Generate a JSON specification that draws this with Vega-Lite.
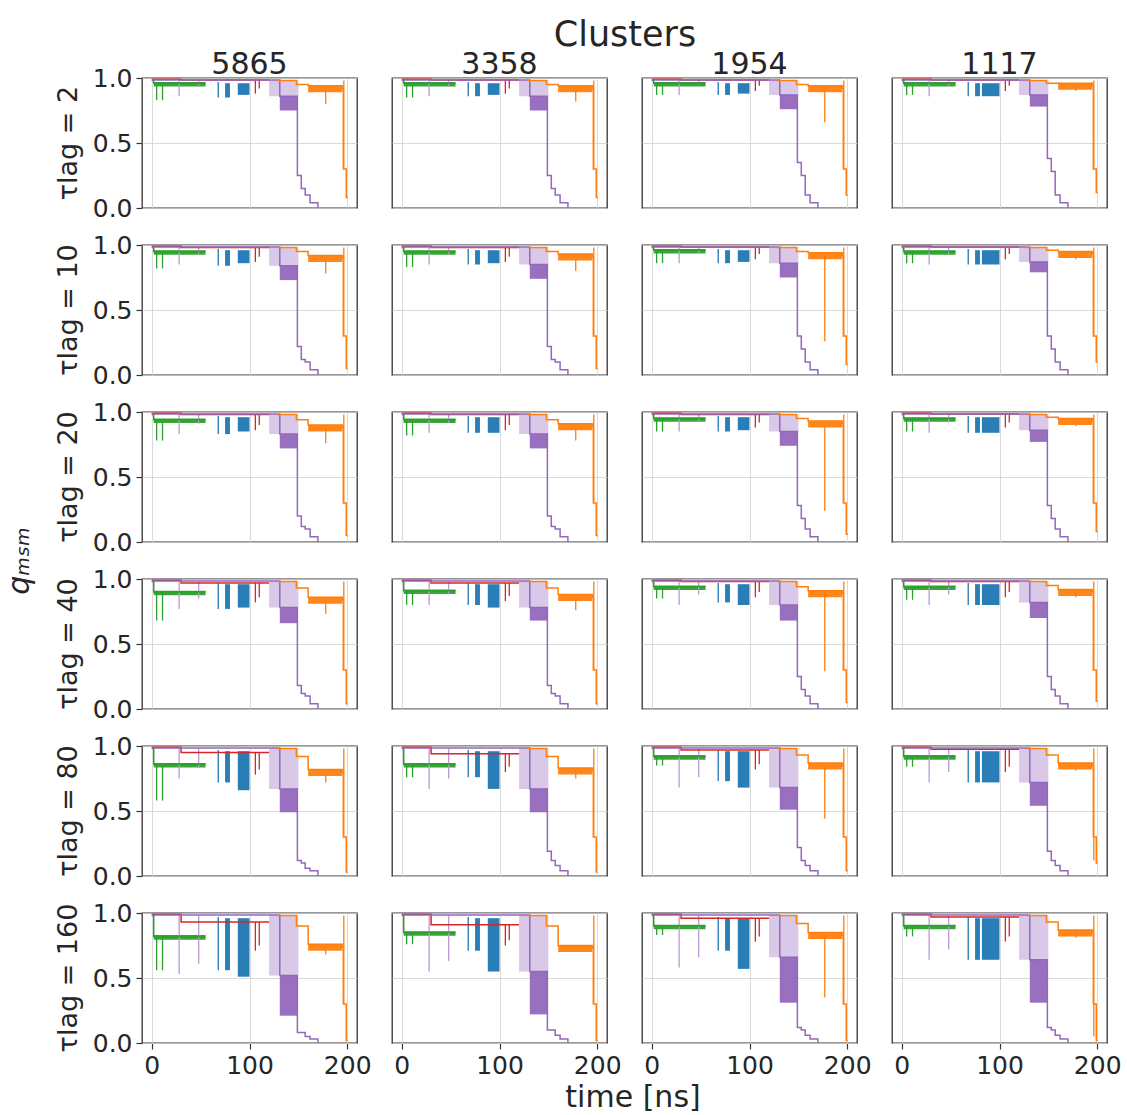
{"$schema":"https://vega.github.io/schema/vega-lite/v6.json","background":"white","padding":{"left":5,"top":18,"right":5,"bottom":2},"bounds":"flush",
"title":{"text":"time [ns]","orient":"bottom","anchor":"middle","fontSize":30,"fontWeight":"normal","color":"#262626","font":"DejaVu Sans","offset":5,"dx":70},
"data":{"values":[
{"r":2,"c":5865,"s":"g","t":0,"q":0.98},{"r":2,"c":5865,"s":"g","t":2,"q":0.96},{"r":2,"c":5865,"s":"g","t":55,"q":0.96},{"r":2,"c":5865,"s":"g","t":5,"q":0.96,"q2":0.83},{"r":2,"c":5865,"s":"g","t":11,"q":0.96,"q2":0.83},{"r":2,"c":5865,"s":"pl","t":28,"q":0.98,"q2":0.86},{"r":2,"c":5865,"s":"pl","t":48,"q":0.98,"q2":0.94},{"r":2,"c":5865,"s":"r","t":0,"q":0.99},{"r":2,"c":5865,"s":"r","t":30,"q":0.985},{"r":2,"c":5865,"s":"r","t":120,"q":0.985},{"r":2,"c":5865,"s":"r","t":106,"q":0.985,"q2":0.88},{"r":2,"c":5865,"s":"r","t":110,"q":0.985,"q2":0.92},{"r":2,"c":5865,"s":"b","t":75,"t2":80,"q":0.85,"q2":0.96},{"r":2,"c":5865,"s":"b","t":88,"t2":100,"q":0.87,"q2":0.96},{"r":2,"c":5865,"s":"b","t":68,"q":0.97,"q2":0.85},{"r":2,"c":5865,"s":"pl","t":120,"t2":150,"q":0.86,"q2":0.985},{"r":2,"c":5865,"s":"p","t":131,"t2":149,"q":0.75,"q2":0.86},{"r":2,"c":5865,"s":"p","t":0,"q":0.985},{"r":2,"c":5865,"s":"p","t":120,"q":0.985},{"r":2,"c":5865,"s":"p","t":131,"q":0.86},{"r":2,"c":5865,"s":"p","t":149,"q":0.25},{"r":2,"c":5865,"s":"p","t":153,"q":0.15},{"r":2,"c":5865,"s":"p","t":157,"q":0.1},{"r":2,"c":5865,"s":"p","t":162,"q":0.04},{"r":2,"c":5865,"s":"p","t":170,"q":0},{"r":2,"c":5865,"s":"o","t":128,"q":0.98},{"r":2,"c":5865,"s":"o","t":148,"q":0.95},{"r":2,"c":5865,"s":"o","t":160,"q":0.94},{"r":2,"c":5865,"s":"o","t":195,"q":0.92},{"r":2,"c":5865,"s":"o","t":196,"q":0.3},{"r":2,"c":5865,"s":"o","t":199,"q":0.08},{"r":2,"c":5865,"s":"o","t":200.5,"q":0.08},{"r":2,"c":5865,"s":"o","t":178,"q":0.92,"q2":0.8},{"r":2,"c":5865,"s":"o","t":196.5,"q":0.98,"q2":0.3},
{"r":2,"c":3358,"s":"g","t":0,"q":0.98},{"r":2,"c":3358,"s":"g","t":2,"q":0.96},{"r":2,"c":3358,"s":"g","t":55,"q":0.96},{"r":2,"c":3358,"s":"g","t":5,"q":0.96,"q2":0.85},{"r":2,"c":3358,"s":"g","t":11,"q":0.96,"q2":0.85},{"r":2,"c":3358,"s":"pl","t":28,"q":0.98,"q2":0.86},{"r":2,"c":3358,"s":"pl","t":48,"q":0.98,"q2":0.94},{"r":2,"c":3358,"s":"r","t":0,"q":0.99},{"r":2,"c":3358,"s":"r","t":30,"q":0.985},{"r":2,"c":3358,"s":"r","t":120,"q":0.985},{"r":2,"c":3358,"s":"r","t":106,"q":0.985,"q2":0.88},{"r":2,"c":3358,"s":"r","t":110,"q":0.985,"q2":0.92},{"r":2,"c":3358,"s":"b","t":75,"t2":80,"q":0.86,"q2":0.96},{"r":2,"c":3358,"s":"b","t":88,"t2":100,"q":0.87,"q2":0.96},{"r":2,"c":3358,"s":"b","t":68,"q":0.97,"q2":0.86},{"r":2,"c":3358,"s":"pl","t":120,"t2":150,"q":0.86,"q2":0.985},{"r":2,"c":3358,"s":"p","t":131,"t2":149,"q":0.75,"q2":0.86},{"r":2,"c":3358,"s":"p","t":0,"q":0.985},{"r":2,"c":3358,"s":"p","t":120,"q":0.985},{"r":2,"c":3358,"s":"p","t":131,"q":0.86},{"r":2,"c":3358,"s":"p","t":149,"q":0.25},{"r":2,"c":3358,"s":"p","t":153,"q":0.15},{"r":2,"c":3358,"s":"p","t":157,"q":0.1},{"r":2,"c":3358,"s":"p","t":162,"q":0.04},{"r":2,"c":3358,"s":"p","t":170,"q":0},{"r":2,"c":3358,"s":"o","t":128,"q":0.98},{"r":2,"c":3358,"s":"o","t":148,"q":0.95},{"r":2,"c":3358,"s":"o","t":160,"q":0.94},{"r":2,"c":3358,"s":"o","t":195,"q":0.92},{"r":2,"c":3358,"s":"o","t":196,"q":0.3},{"r":2,"c":3358,"s":"o","t":199,"q":0.08},{"r":2,"c":3358,"s":"o","t":200.5,"q":0.08},{"r":2,"c":3358,"s":"o","t":178,"q":0.92,"q2":0.82},{"r":2,"c":3358,"s":"o","t":196.5,"q":0.98,"q2":0.3},
{"r":2,"c":1954,"s":"g","t":0,"q":0.98},{"r":2,"c":1954,"s":"g","t":2,"q":0.96},{"r":2,"c":1954,"s":"g","t":55,"q":0.96},{"r":2,"c":1954,"s":"g","t":5,"q":0.96,"q2":0.87},{"r":2,"c":1954,"s":"g","t":11,"q":0.96,"q2":0.87},{"r":2,"c":1954,"s":"pl","t":28,"q":0.98,"q2":0.87},{"r":2,"c":1954,"s":"pl","t":48,"q":0.98,"q2":0.95},{"r":2,"c":1954,"s":"r","t":0,"q":0.99},{"r":2,"c":1954,"s":"r","t":30,"q":0.985},{"r":2,"c":1954,"s":"r","t":120,"q":0.985},{"r":2,"c":1954,"s":"r","t":106,"q":0.985,"q2":0.9},{"r":2,"c":1954,"s":"r","t":110,"q":0.985,"q2":0.94},{"r":2,"c":1954,"s":"b","t":75,"t2":80,"q":0.87,"q2":0.96},{"r":2,"c":1954,"s":"b","t":88,"t2":100,"q":0.88,"q2":0.96},{"r":2,"c":1954,"s":"b","t":68,"q":0.97,"q2":0.87},{"r":2,"c":1954,"s":"pl","t":120,"t2":150,"q":0.87,"q2":0.985},{"r":2,"c":1954,"s":"p","t":131,"t2":149,"q":0.76,"q2":0.87},{"r":2,"c":1954,"s":"p","t":0,"q":0.985},{"r":2,"c":1954,"s":"p","t":120,"q":0.985},{"r":2,"c":1954,"s":"p","t":131,"q":0.87},{"r":2,"c":1954,"s":"p","t":149,"q":0.35},{"r":2,"c":1954,"s":"p","t":153,"q":0.25},{"r":2,"c":1954,"s":"p","t":157,"q":0.1},{"r":2,"c":1954,"s":"p","t":162,"q":0.04},{"r":2,"c":1954,"s":"p","t":170,"q":0},{"r":2,"c":1954,"s":"o","t":128,"q":0.98},{"r":2,"c":1954,"s":"o","t":148,"q":0.95},{"r":2,"c":1954,"s":"o","t":160,"q":0.94},{"r":2,"c":1954,"s":"o","t":195,"q":0.92},{"r":2,"c":1954,"s":"o","t":196,"q":0.3},{"r":2,"c":1954,"s":"o","t":199,"q":0.1},{"r":2,"c":1954,"s":"o","t":200.5,"q":0.1},{"r":2,"c":1954,"s":"o","t":177,"q":0.92,"q2":0.66},{"r":2,"c":1954,"s":"o","t":196.5,"q":0.98,"q2":0.3},
{"r":2,"c":1117,"s":"g","t":0,"q":0.98},{"r":2,"c":1117,"s":"g","t":2,"q":0.96},{"r":2,"c":1117,"s":"g","t":55,"q":0.96},{"r":2,"c":1117,"s":"g","t":5,"q":0.96,"q2":0.87},{"r":2,"c":1117,"s":"g","t":11,"q":0.96,"q2":0.87},{"r":2,"c":1117,"s":"pl","t":28,"q":0.98,"q2":0.86},{"r":2,"c":1117,"s":"pl","t":48,"q":0.98,"q2":0.94},{"r":2,"c":1117,"s":"r","t":0,"q":0.99},{"r":2,"c":1117,"s":"r","t":30,"q":0.985},{"r":2,"c":1117,"s":"r","t":120,"q":0.985},{"r":2,"c":1117,"s":"r","t":106,"q":0.985,"q2":0.9},{"r":2,"c":1117,"s":"r","t":110,"q":0.985,"q2":0.94},{"r":2,"c":1117,"s":"b","t":75,"t2":80,"q":0.86,"q2":0.96},{"r":2,"c":1117,"s":"b","t":82,"t2":100,"q":0.86,"q2":0.96},{"r":2,"c":1117,"s":"b","t":68,"q":0.97,"q2":0.86},{"r":2,"c":1117,"s":"pl","t":120,"t2":150,"q":0.87,"q2":0.985},{"r":2,"c":1117,"s":"p","t":131,"t2":149,"q":0.78,"q2":0.87},{"r":2,"c":1117,"s":"p","t":0,"q":0.985},{"r":2,"c":1117,"s":"p","t":120,"q":0.985},{"r":2,"c":1117,"s":"p","t":131,"q":0.87},{"r":2,"c":1117,"s":"p","t":149,"q":0.38},{"r":2,"c":1117,"s":"p","t":153,"q":0.28},{"r":2,"c":1117,"s":"p","t":157,"q":0.1},{"r":2,"c":1117,"s":"p","t":162,"q":0.04},{"r":2,"c":1117,"s":"p","t":170,"q":0},{"r":2,"c":1117,"s":"o","t":128,"q":0.98},{"r":2,"c":1117,"s":"o","t":148,"q":0.96},{"r":2,"c":1117,"s":"o","t":160,"q":0.96},{"r":2,"c":1117,"s":"o","t":195,"q":0.94},{"r":2,"c":1117,"s":"o","t":196,"q":0.3},{"r":2,"c":1117,"s":"o","t":199,"q":0.12},{"r":2,"c":1117,"s":"o","t":200.5,"q":0.12},{"r":2,"c":1117,"s":"o","t":178,"q":0.94,"q2":0.9},{"r":2,"c":1117,"s":"o","t":196.5,"q":0.98,"q2":0.3},
{"r":10,"c":5865,"s":"g","t":0,"q":0.98},{"r":10,"c":5865,"s":"g","t":2,"q":0.95},{"r":10,"c":5865,"s":"g","t":55,"q":0.95},{"r":10,"c":5865,"s":"g","t":5,"q":0.95,"q2":0.82},{"r":10,"c":5865,"s":"g","t":11,"q":0.95,"q2":0.82},{"r":10,"c":5865,"s":"pl","t":28,"q":0.98,"q2":0.85},{"r":10,"c":5865,"s":"pl","t":48,"q":0.98,"q2":0.93},{"r":10,"c":5865,"s":"r","t":0,"q":0.99},{"r":10,"c":5865,"s":"r","t":30,"q":0.98},{"r":10,"c":5865,"s":"r","t":120,"q":0.98},{"r":10,"c":5865,"s":"r","t":106,"q":0.98,"q2":0.87},{"r":10,"c":5865,"s":"r","t":110,"q":0.98,"q2":0.91},{"r":10,"c":5865,"s":"b","t":75,"t2":80,"q":0.84,"q2":0.96},{"r":10,"c":5865,"s":"b","t":88,"t2":100,"q":0.86,"q2":0.96},{"r":10,"c":5865,"s":"b","t":68,"q":0.97,"q2":0.84},{"r":10,"c":5865,"s":"pl","t":120,"t2":150,"q":0.84,"q2":0.985},{"r":10,"c":5865,"s":"p","t":131,"t2":149,"q":0.73,"q2":0.84},{"r":10,"c":5865,"s":"p","t":0,"q":0.985},{"r":10,"c":5865,"s":"p","t":120,"q":0.985},{"r":10,"c":5865,"s":"p","t":131,"q":0.84},{"r":10,"c":5865,"s":"p","t":149,"q":0.22},{"r":10,"c":5865,"s":"p","t":153,"q":0.12},{"r":10,"c":5865,"s":"p","t":157,"q":0.1},{"r":10,"c":5865,"s":"p","t":162,"q":0.04},{"r":10,"c":5865,"s":"p","t":170,"q":0},{"r":10,"c":5865,"s":"o","t":128,"q":0.98},{"r":10,"c":5865,"s":"o","t":148,"q":0.95},{"r":10,"c":5865,"s":"o","t":160,"q":0.92},{"r":10,"c":5865,"s":"o","t":195,"q":0.9},{"r":10,"c":5865,"s":"o","t":196,"q":0.3},{"r":10,"c":5865,"s":"o","t":199,"q":0.05},{"r":10,"c":5865,"s":"o","t":200.5,"q":0.05},{"r":10,"c":5865,"s":"o","t":178,"q":0.9,"q2":0.78},{"r":10,"c":5865,"s":"o","t":196.5,"q":0.98,"q2":0.3},
{"r":10,"c":3358,"s":"g","t":0,"q":0.98},{"r":10,"c":3358,"s":"g","t":2,"q":0.95},{"r":10,"c":3358,"s":"g","t":55,"q":0.95},{"r":10,"c":3358,"s":"g","t":5,"q":0.95,"q2":0.83},{"r":10,"c":3358,"s":"g","t":11,"q":0.95,"q2":0.83},{"r":10,"c":3358,"s":"pl","t":28,"q":0.98,"q2":0.85},{"r":10,"c":3358,"s":"pl","t":48,"q":0.98,"q2":0.93},{"r":10,"c":3358,"s":"r","t":0,"q":0.99},{"r":10,"c":3358,"s":"r","t":30,"q":0.98},{"r":10,"c":3358,"s":"r","t":120,"q":0.98},{"r":10,"c":3358,"s":"r","t":106,"q":0.98,"q2":0.87},{"r":10,"c":3358,"s":"r","t":110,"q":0.98,"q2":0.91},{"r":10,"c":3358,"s":"b","t":75,"t2":80,"q":0.85,"q2":0.96},{"r":10,"c":3358,"s":"b","t":88,"t2":100,"q":0.86,"q2":0.96},{"r":10,"c":3358,"s":"b","t":68,"q":0.97,"q2":0.85},{"r":10,"c":3358,"s":"pl","t":120,"t2":150,"q":0.85,"q2":0.985},{"r":10,"c":3358,"s":"p","t":131,"t2":149,"q":0.74,"q2":0.85},{"r":10,"c":3358,"s":"p","t":0,"q":0.985},{"r":10,"c":3358,"s":"p","t":120,"q":0.985},{"r":10,"c":3358,"s":"p","t":131,"q":0.85},{"r":10,"c":3358,"s":"p","t":149,"q":0.22},{"r":10,"c":3358,"s":"p","t":153,"q":0.12},{"r":10,"c":3358,"s":"p","t":157,"q":0.1},{"r":10,"c":3358,"s":"p","t":162,"q":0.04},{"r":10,"c":3358,"s":"p","t":170,"q":0},{"r":10,"c":3358,"s":"o","t":128,"q":0.98},{"r":10,"c":3358,"s":"o","t":148,"q":0.95},{"r":10,"c":3358,"s":"o","t":160,"q":0.93},{"r":10,"c":3358,"s":"o","t":195,"q":0.91},{"r":10,"c":3358,"s":"o","t":196,"q":0.3},{"r":10,"c":3358,"s":"o","t":199,"q":0.05},{"r":10,"c":3358,"s":"o","t":200.5,"q":0.05},{"r":10,"c":3358,"s":"o","t":178,"q":0.91,"q2":0.8},{"r":10,"c":3358,"s":"o","t":196.5,"q":0.98,"q2":0.3},
{"r":10,"c":1954,"s":"g","t":0,"q":0.98},{"r":10,"c":1954,"s":"g","t":2,"q":0.96},{"r":10,"c":1954,"s":"g","t":55,"q":0.96},{"r":10,"c":1954,"s":"g","t":5,"q":0.96,"q2":0.86},{"r":10,"c":1954,"s":"g","t":11,"q":0.96,"q2":0.86},{"r":10,"c":1954,"s":"pl","t":28,"q":0.98,"q2":0.86},{"r":10,"c":1954,"s":"pl","t":48,"q":0.98,"q2":0.94},{"r":10,"c":1954,"s":"r","t":0,"q":0.99},{"r":10,"c":1954,"s":"r","t":30,"q":0.985},{"r":10,"c":1954,"s":"r","t":120,"q":0.985},{"r":10,"c":1954,"s":"r","t":106,"q":0.985,"q2":0.89},{"r":10,"c":1954,"s":"r","t":110,"q":0.985,"q2":0.93},{"r":10,"c":1954,"s":"b","t":75,"t2":80,"q":0.86,"q2":0.96},{"r":10,"c":1954,"s":"b","t":88,"t2":100,"q":0.87,"q2":0.96},{"r":10,"c":1954,"s":"b","t":68,"q":0.97,"q2":0.86},{"r":10,"c":1954,"s":"pl","t":120,"t2":150,"q":0.86,"q2":0.985},{"r":10,"c":1954,"s":"p","t":131,"t2":149,"q":0.75,"q2":0.86},{"r":10,"c":1954,"s":"p","t":0,"q":0.985},{"r":10,"c":1954,"s":"p","t":120,"q":0.985},{"r":10,"c":1954,"s":"p","t":131,"q":0.86},{"r":10,"c":1954,"s":"p","t":149,"q":0.3},{"r":10,"c":1954,"s":"p","t":153,"q":0.2},{"r":10,"c":1954,"s":"p","t":157,"q":0.1},{"r":10,"c":1954,"s":"p","t":162,"q":0.04},{"r":10,"c":1954,"s":"p","t":170,"q":0},{"r":10,"c":1954,"s":"o","t":128,"q":0.98},{"r":10,"c":1954,"s":"o","t":148,"q":0.95},{"r":10,"c":1954,"s":"o","t":160,"q":0.94},{"r":10,"c":1954,"s":"o","t":195,"q":0.92},{"r":10,"c":1954,"s":"o","t":196,"q":0.3},{"r":10,"c":1954,"s":"o","t":199,"q":0.08},{"r":10,"c":1954,"s":"o","t":200.5,"q":0.08},{"r":10,"c":1954,"s":"o","t":177,"q":0.92,"q2":0.26},{"r":10,"c":1954,"s":"o","t":196.5,"q":0.98,"q2":0.3},
{"r":10,"c":1117,"s":"g","t":0,"q":0.98},{"r":10,"c":1117,"s":"g","t":2,"q":0.95},{"r":10,"c":1117,"s":"g","t":55,"q":0.95},{"r":10,"c":1117,"s":"g","t":5,"q":0.95,"q2":0.86},{"r":10,"c":1117,"s":"g","t":11,"q":0.95,"q2":0.86},{"r":10,"c":1117,"s":"pl","t":28,"q":0.98,"q2":0.85},{"r":10,"c":1117,"s":"pl","t":48,"q":0.98,"q2":0.93},{"r":10,"c":1117,"s":"r","t":0,"q":0.99},{"r":10,"c":1117,"s":"r","t":30,"q":0.985},{"r":10,"c":1117,"s":"r","t":120,"q":0.985},{"r":10,"c":1117,"s":"r","t":106,"q":0.985,"q2":0.89},{"r":10,"c":1117,"s":"r","t":110,"q":0.985,"q2":0.93},{"r":10,"c":1117,"s":"b","t":75,"t2":80,"q":0.85,"q2":0.96},{"r":10,"c":1117,"s":"b","t":82,"t2":100,"q":0.85,"q2":0.96},{"r":10,"c":1117,"s":"b","t":68,"q":0.97,"q2":0.85},{"r":10,"c":1117,"s":"pl","t":120,"t2":150,"q":0.87,"q2":0.985},{"r":10,"c":1117,"s":"p","t":131,"t2":149,"q":0.79,"q2":0.87},{"r":10,"c":1117,"s":"p","t":0,"q":0.985},{"r":10,"c":1117,"s":"p","t":120,"q":0.985},{"r":10,"c":1117,"s":"p","t":131,"q":0.87},{"r":10,"c":1117,"s":"p","t":149,"q":0.3},{"r":10,"c":1117,"s":"p","t":153,"q":0.2},{"r":10,"c":1117,"s":"p","t":157,"q":0.1},{"r":10,"c":1117,"s":"p","t":162,"q":0.04},{"r":10,"c":1117,"s":"p","t":170,"q":0},{"r":10,"c":1117,"s":"o","t":128,"q":0.98},{"r":10,"c":1117,"s":"o","t":148,"q":0.96},{"r":10,"c":1117,"s":"o","t":160,"q":0.95},{"r":10,"c":1117,"s":"o","t":195,"q":0.93},{"r":10,"c":1117,"s":"o","t":196,"q":0.3},{"r":10,"c":1117,"s":"o","t":199,"q":0.1},{"r":10,"c":1117,"s":"o","t":200.5,"q":0.1},{"r":10,"c":1117,"s":"o","t":178,"q":0.93,"q2":0.89},{"r":10,"c":1117,"s":"o","t":196.5,"q":0.98,"q2":0.3},
{"r":20,"c":5865,"s":"g","t":0,"q":0.98},{"r":20,"c":5865,"s":"g","t":2,"q":0.94},{"r":20,"c":5865,"s":"g","t":55,"q":0.94},{"r":20,"c":5865,"s":"g","t":5,"q":0.94,"q2":0.78},{"r":20,"c":5865,"s":"g","t":11,"q":0.94,"q2":0.78},{"r":20,"c":5865,"s":"pl","t":28,"q":0.98,"q2":0.83},{"r":20,"c":5865,"s":"pl","t":48,"q":0.98,"q2":0.91},{"r":20,"c":5865,"s":"r","t":0,"q":0.99},{"r":20,"c":5865,"s":"r","t":30,"q":0.98},{"r":20,"c":5865,"s":"r","t":120,"q":0.98},{"r":20,"c":5865,"s":"r","t":106,"q":0.98,"q2":0.86},{"r":20,"c":5865,"s":"r","t":110,"q":0.98,"q2":0.9},{"r":20,"c":5865,"s":"b","t":75,"t2":80,"q":0.83,"q2":0.96},{"r":20,"c":5865,"s":"b","t":88,"t2":100,"q":0.85,"q2":0.96},{"r":20,"c":5865,"s":"b","t":68,"q":0.97,"q2":0.83},{"r":20,"c":5865,"s":"pl","t":120,"t2":150,"q":0.83,"q2":0.985},{"r":20,"c":5865,"s":"p","t":131,"t2":149,"q":0.72,"q2":0.83},{"r":20,"c":5865,"s":"p","t":0,"q":0.985},{"r":20,"c":5865,"s":"p","t":120,"q":0.985},{"r":20,"c":5865,"s":"p","t":131,"q":0.83},{"r":20,"c":5865,"s":"p","t":149,"q":0.2},{"r":20,"c":5865,"s":"p","t":153,"q":0.12},{"r":20,"c":5865,"s":"p","t":157,"q":0.1},{"r":20,"c":5865,"s":"p","t":162,"q":0.04},{"r":20,"c":5865,"s":"p","t":170,"q":0},{"r":20,"c":5865,"s":"o","t":128,"q":0.98},{"r":20,"c":5865,"s":"o","t":148,"q":0.94},{"r":20,"c":5865,"s":"o","t":160,"q":0.9},{"r":20,"c":5865,"s":"o","t":195,"q":0.88},{"r":20,"c":5865,"s":"o","t":196,"q":0.3},{"r":20,"c":5865,"s":"o","t":199,"q":0.05},{"r":20,"c":5865,"s":"o","t":200.5,"q":0.05},{"r":20,"c":5865,"s":"o","t":178,"q":0.88,"q2":0.76},{"r":20,"c":5865,"s":"o","t":196.5,"q":0.98,"q2":0.3},
{"r":20,"c":3358,"s":"g","t":0,"q":0.98},{"r":20,"c":3358,"s":"g","t":2,"q":0.94},{"r":20,"c":3358,"s":"g","t":55,"q":0.94},{"r":20,"c":3358,"s":"g","t":5,"q":0.94,"q2":0.82},{"r":20,"c":3358,"s":"g","t":11,"q":0.94,"q2":0.82},{"r":20,"c":3358,"s":"pl","t":28,"q":0.98,"q2":0.84},{"r":20,"c":3358,"s":"pl","t":48,"q":0.98,"q2":0.92},{"r":20,"c":3358,"s":"r","t":0,"q":0.99},{"r":20,"c":3358,"s":"r","t":30,"q":0.98},{"r":20,"c":3358,"s":"r","t":120,"q":0.98},{"r":20,"c":3358,"s":"r","t":106,"q":0.98,"q2":0.86},{"r":20,"c":3358,"s":"r","t":110,"q":0.98,"q2":0.9},{"r":20,"c":3358,"s":"b","t":75,"t2":80,"q":0.84,"q2":0.96},{"r":20,"c":3358,"s":"b","t":88,"t2":100,"q":0.84,"q2":0.96},{"r":20,"c":3358,"s":"b","t":68,"q":0.97,"q2":0.84},{"r":20,"c":3358,"s":"pl","t":120,"t2":150,"q":0.83,"q2":0.985},{"r":20,"c":3358,"s":"p","t":131,"t2":149,"q":0.72,"q2":0.83},{"r":20,"c":3358,"s":"p","t":0,"q":0.985},{"r":20,"c":3358,"s":"p","t":120,"q":0.985},{"r":20,"c":3358,"s":"p","t":131,"q":0.83},{"r":20,"c":3358,"s":"p","t":149,"q":0.2},{"r":20,"c":3358,"s":"p","t":153,"q":0.12},{"r":20,"c":3358,"s":"p","t":157,"q":0.1},{"r":20,"c":3358,"s":"p","t":162,"q":0.04},{"r":20,"c":3358,"s":"p","t":170,"q":0},{"r":20,"c":3358,"s":"o","t":128,"q":0.98},{"r":20,"c":3358,"s":"o","t":148,"q":0.94},{"r":20,"c":3358,"s":"o","t":160,"q":0.91},{"r":20,"c":3358,"s":"o","t":195,"q":0.89},{"r":20,"c":3358,"s":"o","t":196,"q":0.3},{"r":20,"c":3358,"s":"o","t":199,"q":0.05},{"r":20,"c":3358,"s":"o","t":200.5,"q":0.05},{"r":20,"c":3358,"s":"o","t":178,"q":0.89,"q2":0.78},{"r":20,"c":3358,"s":"o","t":196.5,"q":0.98,"q2":0.3},
{"r":20,"c":1954,"s":"g","t":0,"q":0.98},{"r":20,"c":1954,"s":"g","t":2,"q":0.95},{"r":20,"c":1954,"s":"g","t":55,"q":0.95},{"r":20,"c":1954,"s":"g","t":5,"q":0.95,"q2":0.85},{"r":20,"c":1954,"s":"g","t":11,"q":0.95,"q2":0.85},{"r":20,"c":1954,"s":"pl","t":28,"q":0.98,"q2":0.85},{"r":20,"c":1954,"s":"pl","t":48,"q":0.98,"q2":0.93},{"r":20,"c":1954,"s":"r","t":0,"q":0.99},{"r":20,"c":1954,"s":"r","t":30,"q":0.98},{"r":20,"c":1954,"s":"r","t":120,"q":0.98},{"r":20,"c":1954,"s":"r","t":106,"q":0.98,"q2":0.88},{"r":20,"c":1954,"s":"r","t":110,"q":0.98,"q2":0.92},{"r":20,"c":1954,"s":"b","t":75,"t2":80,"q":0.85,"q2":0.96},{"r":20,"c":1954,"s":"b","t":88,"t2":100,"q":0.86,"q2":0.96},{"r":20,"c":1954,"s":"b","t":68,"q":0.97,"q2":0.85},{"r":20,"c":1954,"s":"pl","t":120,"t2":150,"q":0.85,"q2":0.985},{"r":20,"c":1954,"s":"p","t":131,"t2":149,"q":0.74,"q2":0.85},{"r":20,"c":1954,"s":"p","t":0,"q":0.985},{"r":20,"c":1954,"s":"p","t":120,"q":0.985},{"r":20,"c":1954,"s":"p","t":131,"q":0.85},{"r":20,"c":1954,"s":"p","t":149,"q":0.28},{"r":20,"c":1954,"s":"p","t":153,"q":0.18},{"r":20,"c":1954,"s":"p","t":157,"q":0.1},{"r":20,"c":1954,"s":"p","t":162,"q":0.04},{"r":20,"c":1954,"s":"p","t":170,"q":0},{"r":20,"c":1954,"s":"o","t":128,"q":0.98},{"r":20,"c":1954,"s":"o","t":148,"q":0.95},{"r":20,"c":1954,"s":"o","t":160,"q":0.93},{"r":20,"c":1954,"s":"o","t":195,"q":0.91},{"r":20,"c":1954,"s":"o","t":196,"q":0.3},{"r":20,"c":1954,"s":"o","t":199,"q":0.06},{"r":20,"c":1954,"s":"o","t":200.5,"q":0.06},{"r":20,"c":1954,"s":"o","t":177,"q":0.91,"q2":0.24},{"r":20,"c":1954,"s":"o","t":196.5,"q":0.98,"q2":0.3},
{"r":20,"c":1117,"s":"g","t":0,"q":0.98},{"r":20,"c":1117,"s":"g","t":2,"q":0.95},{"r":20,"c":1117,"s":"g","t":55,"q":0.95},{"r":20,"c":1117,"s":"g","t":5,"q":0.95,"q2":0.85},{"r":20,"c":1117,"s":"g","t":11,"q":0.95,"q2":0.85},{"r":20,"c":1117,"s":"pl","t":28,"q":0.98,"q2":0.84},{"r":20,"c":1117,"s":"pl","t":48,"q":0.98,"q2":0.92},{"r":20,"c":1117,"s":"r","t":0,"q":0.99},{"r":20,"c":1117,"s":"r","t":30,"q":0.985},{"r":20,"c":1117,"s":"r","t":120,"q":0.985},{"r":20,"c":1117,"s":"r","t":106,"q":0.985,"q2":0.88},{"r":20,"c":1117,"s":"r","t":110,"q":0.985,"q2":0.92},{"r":20,"c":1117,"s":"b","t":75,"t2":80,"q":0.84,"q2":0.96},{"r":20,"c":1117,"s":"b","t":82,"t2":100,"q":0.84,"q2":0.96},{"r":20,"c":1117,"s":"b","t":68,"q":0.97,"q2":0.84},{"r":20,"c":1117,"s":"pl","t":120,"t2":150,"q":0.86,"q2":0.985},{"r":20,"c":1117,"s":"p","t":131,"t2":149,"q":0.77,"q2":0.86},{"r":20,"c":1117,"s":"p","t":0,"q":0.985},{"r":20,"c":1117,"s":"p","t":120,"q":0.985},{"r":20,"c":1117,"s":"p","t":131,"q":0.86},{"r":20,"c":1117,"s":"p","t":149,"q":0.28},{"r":20,"c":1117,"s":"p","t":153,"q":0.18},{"r":20,"c":1117,"s":"p","t":157,"q":0.1},{"r":20,"c":1117,"s":"p","t":162,"q":0.04},{"r":20,"c":1117,"s":"p","t":170,"q":0},{"r":20,"c":1117,"s":"o","t":128,"q":0.98},{"r":20,"c":1117,"s":"o","t":148,"q":0.96},{"r":20,"c":1117,"s":"o","t":160,"q":0.95},{"r":20,"c":1117,"s":"o","t":195,"q":0.93},{"r":20,"c":1117,"s":"o","t":196,"q":0.3},{"r":20,"c":1117,"s":"o","t":199,"q":0.08},{"r":20,"c":1117,"s":"o","t":200.5,"q":0.08},{"r":20,"c":1117,"s":"o","t":178,"q":0.93,"q2":0.89},{"r":20,"c":1117,"s":"o","t":196.5,"q":0.98,"q2":0.3},
{"r":40,"c":5865,"s":"g","t":0,"q":0.98},{"r":40,"c":5865,"s":"g","t":2,"q":0.9},{"r":40,"c":5865,"s":"g","t":55,"q":0.9},{"r":40,"c":5865,"s":"g","t":5,"q":0.9,"q2":0.68},{"r":40,"c":5865,"s":"g","t":11,"q":0.9,"q2":0.68},{"r":40,"c":5865,"s":"pl","t":28,"q":0.98,"q2":0.77},{"r":40,"c":5865,"s":"pl","t":48,"q":0.98,"q2":0.85},{"r":40,"c":5865,"s":"r","t":0,"q":0.99},{"r":40,"c":5865,"s":"r","t":30,"q":0.97},{"r":40,"c":5865,"s":"r","t":120,"q":0.97},{"r":40,"c":5865,"s":"r","t":106,"q":0.97,"q2":0.82},{"r":40,"c":5865,"s":"r","t":110,"q":0.97,"q2":0.86},{"r":40,"c":5865,"s":"b","t":75,"t2":80,"q":0.77,"q2":0.96},{"r":40,"c":5865,"s":"b","t":88,"t2":100,"q":0.78,"q2":0.96},{"r":40,"c":5865,"s":"b","t":68,"q":0.97,"q2":0.77},{"r":40,"c":5865,"s":"pl","t":120,"t2":150,"q":0.78,"q2":0.985},{"r":40,"c":5865,"s":"p","t":131,"t2":149,"q":0.66,"q2":0.78},{"r":40,"c":5865,"s":"p","t":0,"q":0.985},{"r":40,"c":5865,"s":"p","t":120,"q":0.985},{"r":40,"c":5865,"s":"p","t":131,"q":0.78},{"r":40,"c":5865,"s":"p","t":149,"q":0.18},{"r":40,"c":5865,"s":"p","t":153,"q":0.12},{"r":40,"c":5865,"s":"p","t":157,"q":0.1},{"r":40,"c":5865,"s":"p","t":162,"q":0.04},{"r":40,"c":5865,"s":"p","t":170,"q":0},{"r":40,"c":5865,"s":"o","t":128,"q":0.98},{"r":40,"c":5865,"s":"o","t":148,"q":0.93},{"r":40,"c":5865,"s":"o","t":160,"q":0.86},{"r":40,"c":5865,"s":"o","t":195,"q":0.84},{"r":40,"c":5865,"s":"o","t":196,"q":0.3},{"r":40,"c":5865,"s":"o","t":199,"q":0.04},{"r":40,"c":5865,"s":"o","t":200.5,"q":0.04},{"r":40,"c":5865,"s":"o","t":178,"q":0.84,"q2":0.73},{"r":40,"c":5865,"s":"o","t":196.5,"q":0.98,"q2":0.3},
{"r":40,"c":3358,"s":"g","t":0,"q":0.98},{"r":40,"c":3358,"s":"g","t":2,"q":0.91},{"r":40,"c":3358,"s":"g","t":55,"q":0.91},{"r":40,"c":3358,"s":"g","t":5,"q":0.91,"q2":0.8},{"r":40,"c":3358,"s":"g","t":11,"q":0.91,"q2":0.8},{"r":40,"c":3358,"s":"pl","t":28,"q":0.98,"q2":0.8},{"r":40,"c":3358,"s":"pl","t":48,"q":0.98,"q2":0.88},{"r":40,"c":3358,"s":"r","t":0,"q":0.99},{"r":40,"c":3358,"s":"r","t":30,"q":0.97},{"r":40,"c":3358,"s":"r","t":120,"q":0.97},{"r":40,"c":3358,"s":"r","t":106,"q":0.97,"q2":0.83},{"r":40,"c":3358,"s":"r","t":110,"q":0.97,"q2":0.87},{"r":40,"c":3358,"s":"b","t":75,"t2":80,"q":0.8,"q2":0.96},{"r":40,"c":3358,"s":"b","t":88,"t2":100,"q":0.78,"q2":0.96},{"r":40,"c":3358,"s":"b","t":68,"q":0.97,"q2":0.8},{"r":40,"c":3358,"s":"pl","t":120,"t2":150,"q":0.78,"q2":0.985},{"r":40,"c":3358,"s":"p","t":131,"t2":149,"q":0.68,"q2":0.78},{"r":40,"c":3358,"s":"p","t":0,"q":0.985},{"r":40,"c":3358,"s":"p","t":120,"q":0.985},{"r":40,"c":3358,"s":"p","t":131,"q":0.78},{"r":40,"c":3358,"s":"p","t":149,"q":0.18},{"r":40,"c":3358,"s":"p","t":153,"q":0.12},{"r":40,"c":3358,"s":"p","t":157,"q":0.1},{"r":40,"c":3358,"s":"p","t":162,"q":0.04},{"r":40,"c":3358,"s":"p","t":170,"q":0},{"r":40,"c":3358,"s":"o","t":128,"q":0.98},{"r":40,"c":3358,"s":"o","t":148,"q":0.93},{"r":40,"c":3358,"s":"o","t":160,"q":0.88},{"r":40,"c":3358,"s":"o","t":195,"q":0.86},{"r":40,"c":3358,"s":"o","t":196,"q":0.3},{"r":40,"c":3358,"s":"o","t":199,"q":0.04},{"r":40,"c":3358,"s":"o","t":200.5,"q":0.04},{"r":40,"c":3358,"s":"o","t":178,"q":0.86,"q2":0.76},{"r":40,"c":3358,"s":"o","t":196.5,"q":0.98,"q2":0.3},
{"r":40,"c":1954,"s":"g","t":0,"q":0.98},{"r":40,"c":1954,"s":"g","t":2,"q":0.94},{"r":40,"c":1954,"s":"g","t":55,"q":0.94},{"r":40,"c":1954,"s":"g","t":5,"q":0.94,"q2":0.85},{"r":40,"c":1954,"s":"g","t":11,"q":0.94,"q2":0.85},{"r":40,"c":1954,"s":"pl","t":28,"q":0.98,"q2":0.8},{"r":40,"c":1954,"s":"pl","t":48,"q":0.98,"q2":0.88},{"r":40,"c":1954,"s":"r","t":0,"q":0.99},{"r":40,"c":1954,"s":"r","t":30,"q":0.98},{"r":40,"c":1954,"s":"r","t":120,"q":0.98},{"r":40,"c":1954,"s":"r","t":106,"q":0.98,"q2":0.86},{"r":40,"c":1954,"s":"r","t":110,"q":0.98,"q2":0.9},{"r":40,"c":1954,"s":"b","t":75,"t2":80,"q":0.82,"q2":0.96},{"r":40,"c":1954,"s":"b","t":88,"t2":100,"q":0.8,"q2":0.96},{"r":40,"c":1954,"s":"b","t":68,"q":0.97,"q2":0.82},{"r":40,"c":1954,"s":"pl","t":120,"t2":150,"q":0.8,"q2":0.985},{"r":40,"c":1954,"s":"p","t":131,"t2":149,"q":0.68,"q2":0.8},{"r":40,"c":1954,"s":"p","t":0,"q":0.985},{"r":40,"c":1954,"s":"p","t":120,"q":0.985},{"r":40,"c":1954,"s":"p","t":131,"q":0.8},{"r":40,"c":1954,"s":"p","t":149,"q":0.25},{"r":40,"c":1954,"s":"p","t":153,"q":0.15},{"r":40,"c":1954,"s":"p","t":157,"q":0.1},{"r":40,"c":1954,"s":"p","t":162,"q":0.04},{"r":40,"c":1954,"s":"p","t":170,"q":0},{"r":40,"c":1954,"s":"o","t":128,"q":0.98},{"r":40,"c":1954,"s":"o","t":148,"q":0.94},{"r":40,"c":1954,"s":"o","t":160,"q":0.91},{"r":40,"c":1954,"s":"o","t":195,"q":0.89},{"r":40,"c":1954,"s":"o","t":196,"q":0.3},{"r":40,"c":1954,"s":"o","t":199,"q":0.05},{"r":40,"c":1954,"s":"o","t":200.5,"q":0.05},{"r":40,"c":1954,"s":"o","t":177,"q":0.89,"q2":0.29},{"r":40,"c":1954,"s":"o","t":196.5,"q":0.98,"q2":0.3},
{"r":40,"c":1117,"s":"g","t":0,"q":0.98},{"r":40,"c":1117,"s":"g","t":2,"q":0.94},{"r":40,"c":1117,"s":"g","t":55,"q":0.94},{"r":40,"c":1117,"s":"g","t":5,"q":0.94,"q2":0.84},{"r":40,"c":1117,"s":"g","t":11,"q":0.94,"q2":0.84},{"r":40,"c":1117,"s":"pl","t":28,"q":0.98,"q2":0.8},{"r":40,"c":1117,"s":"pl","t":48,"q":0.98,"q2":0.88},{"r":40,"c":1117,"s":"r","t":0,"q":0.99},{"r":40,"c":1117,"s":"r","t":30,"q":0.98},{"r":40,"c":1117,"s":"r","t":120,"q":0.98},{"r":40,"c":1117,"s":"r","t":106,"q":0.98,"q2":0.86},{"r":40,"c":1117,"s":"r","t":110,"q":0.98,"q2":0.9},{"r":40,"c":1117,"s":"b","t":75,"t2":80,"q":0.8,"q2":0.96},{"r":40,"c":1117,"s":"b","t":82,"t2":100,"q":0.8,"q2":0.96},{"r":40,"c":1117,"s":"b","t":68,"q":0.97,"q2":0.8},{"r":40,"c":1117,"s":"pl","t":120,"t2":150,"q":0.82,"q2":0.985},{"r":40,"c":1117,"s":"p","t":131,"t2":149,"q":0.7,"q2":0.82},{"r":40,"c":1117,"s":"p","t":0,"q":0.985},{"r":40,"c":1117,"s":"p","t":120,"q":0.985},{"r":40,"c":1117,"s":"p","t":131,"q":0.82},{"r":40,"c":1117,"s":"p","t":149,"q":0.25},{"r":40,"c":1117,"s":"p","t":153,"q":0.15},{"r":40,"c":1117,"s":"p","t":157,"q":0.1},{"r":40,"c":1117,"s":"p","t":162,"q":0.04},{"r":40,"c":1117,"s":"p","t":170,"q":0},{"r":40,"c":1117,"s":"o","t":128,"q":0.98},{"r":40,"c":1117,"s":"o","t":148,"q":0.95},{"r":40,"c":1117,"s":"o","t":160,"q":0.92},{"r":40,"c":1117,"s":"o","t":195,"q":0.9},{"r":40,"c":1117,"s":"o","t":196,"q":0.3},{"r":40,"c":1117,"s":"o","t":199,"q":0.06},{"r":40,"c":1117,"s":"o","t":200.5,"q":0.06},{"r":40,"c":1117,"s":"o","t":178,"q":0.9,"q2":0.86},{"r":40,"c":1117,"s":"o","t":196.5,"q":0.98,"q2":0.3},
{"r":80,"c":5865,"s":"g","t":0,"q":0.98},{"r":80,"c":5865,"s":"g","t":2,"q":0.86},{"r":80,"c":5865,"s":"g","t":55,"q":0.86},{"r":80,"c":5865,"s":"g","t":5,"q":0.86,"q2":0.58},{"r":80,"c":5865,"s":"g","t":11,"q":0.86,"q2":0.58},{"r":80,"c":5865,"s":"pl","t":28,"q":0.98,"q2":0.75},{"r":80,"c":5865,"s":"pl","t":48,"q":0.98,"q2":0.83},{"r":80,"c":5865,"s":"r","t":0,"q":0.99},{"r":80,"c":5865,"s":"r","t":30,"q":0.95},{"r":80,"c":5865,"s":"r","t":120,"q":0.95},{"r":80,"c":5865,"s":"r","t":106,"q":0.95,"q2":0.78},{"r":80,"c":5865,"s":"r","t":110,"q":0.95,"q2":0.82},{"r":80,"c":5865,"s":"b","t":75,"t2":80,"q":0.72,"q2":0.96},{"r":80,"c":5865,"s":"b","t":88,"t2":100,"q":0.66,"q2":0.96},{"r":80,"c":5865,"s":"b","t":68,"q":0.97,"q2":0.72},{"r":80,"c":5865,"s":"pl","t":120,"t2":150,"q":0.67,"q2":0.985},{"r":80,"c":5865,"s":"p","t":131,"t2":149,"q":0.49,"q2":0.67},{"r":80,"c":5865,"s":"p","t":0,"q":0.985},{"r":80,"c":5865,"s":"p","t":120,"q":0.985},{"r":80,"c":5865,"s":"p","t":131,"q":0.67},{"r":80,"c":5865,"s":"p","t":149,"q":0.12},{"r":80,"c":5865,"s":"p","t":153,"q":0.1},{"r":80,"c":5865,"s":"p","t":157,"q":0.06},{"r":80,"c":5865,"s":"p","t":162,"q":0.04},{"r":80,"c":5865,"s":"p","t":170,"q":0},{"r":80,"c":5865,"s":"o","t":128,"q":0.98},{"r":80,"c":5865,"s":"o","t":148,"q":0.92},{"r":80,"c":5865,"s":"o","t":160,"q":0.82},{"r":80,"c":5865,"s":"o","t":195,"q":0.8},{"r":80,"c":5865,"s":"o","t":196,"q":0.3},{"r":80,"c":5865,"s":"o","t":199,"q":0.03},{"r":80,"c":5865,"s":"o","t":200.5,"q":0.03},{"r":80,"c":5865,"s":"o","t":178,"q":0.8,"q2":0.72},{"r":80,"c":5865,"s":"o","t":196.5,"q":0.98,"q2":0.3},
{"r":80,"c":3358,"s":"g","t":0,"q":0.98},{"r":80,"c":3358,"s":"g","t":2,"q":0.86},{"r":80,"c":3358,"s":"g","t":55,"q":0.86},{"r":80,"c":3358,"s":"g","t":5,"q":0.86,"q2":0.76},{"r":80,"c":3358,"s":"g","t":11,"q":0.86,"q2":0.76},{"r":80,"c":3358,"s":"pl","t":28,"q":0.98,"q2":0.67},{"r":80,"c":3358,"s":"pl","t":48,"q":0.98,"q2":0.75},{"r":80,"c":3358,"s":"r","t":0,"q":0.99},{"r":80,"c":3358,"s":"r","t":30,"q":0.94},{"r":80,"c":3358,"s":"r","t":120,"q":0.94},{"r":80,"c":3358,"s":"r","t":106,"q":0.94,"q2":0.8},{"r":80,"c":3358,"s":"r","t":110,"q":0.94,"q2":0.84},{"r":80,"c":3358,"s":"b","t":75,"t2":80,"q":0.76,"q2":0.96},{"r":80,"c":3358,"s":"b","t":88,"t2":100,"q":0.67,"q2":0.96},{"r":80,"c":3358,"s":"b","t":68,"q":0.97,"q2":0.76},{"r":80,"c":3358,"s":"pl","t":120,"t2":150,"q":0.67,"q2":0.985},{"r":80,"c":3358,"s":"p","t":131,"t2":149,"q":0.49,"q2":0.67},{"r":80,"c":3358,"s":"p","t":0,"q":0.985},{"r":80,"c":3358,"s":"p","t":120,"q":0.985},{"r":80,"c":3358,"s":"p","t":131,"q":0.67},{"r":80,"c":3358,"s":"p","t":149,"q":0.19},{"r":80,"c":3358,"s":"p","t":153,"q":0.12},{"r":80,"c":3358,"s":"p","t":157,"q":0.08},{"r":80,"c":3358,"s":"p","t":162,"q":0.04},{"r":80,"c":3358,"s":"p","t":170,"q":0},{"r":80,"c":3358,"s":"o","t":128,"q":0.98},{"r":80,"c":3358,"s":"o","t":148,"q":0.92},{"r":80,"c":3358,"s":"o","t":160,"q":0.83},{"r":80,"c":3358,"s":"o","t":195,"q":0.81},{"r":80,"c":3358,"s":"o","t":196,"q":0.3},{"r":80,"c":3358,"s":"o","t":199,"q":0.03},{"r":80,"c":3358,"s":"o","t":200.5,"q":0.03},{"r":80,"c":3358,"s":"o","t":178,"q":0.81,"q2":0.75},{"r":80,"c":3358,"s":"o","t":196.5,"q":0.98,"q2":0.3},
{"r":80,"c":1954,"s":"g","t":0,"q":0.98},{"r":80,"c":1954,"s":"g","t":2,"q":0.92},{"r":80,"c":1954,"s":"g","t":55,"q":0.92},{"r":80,"c":1954,"s":"g","t":5,"q":0.92,"q2":0.85},{"r":80,"c":1954,"s":"g","t":11,"q":0.92,"q2":0.85},{"r":80,"c":1954,"s":"pl","t":28,"q":0.98,"q2":0.68},{"r":80,"c":1954,"s":"pl","t":48,"q":0.98,"q2":0.76},{"r":80,"c":1954,"s":"r","t":0,"q":0.99},{"r":80,"c":1954,"s":"r","t":30,"q":0.97},{"r":80,"c":1954,"s":"r","t":120,"q":0.97},{"r":80,"c":1954,"s":"r","t":106,"q":0.97,"q2":0.82},{"r":80,"c":1954,"s":"r","t":110,"q":0.97,"q2":0.86},{"r":80,"c":1954,"s":"b","t":75,"t2":80,"q":0.73,"q2":0.96},{"r":80,"c":1954,"s":"b","t":88,"t2":100,"q":0.68,"q2":0.96},{"r":80,"c":1954,"s":"b","t":68,"q":0.97,"q2":0.73},{"r":80,"c":1954,"s":"pl","t":120,"t2":150,"q":0.68,"q2":0.985},{"r":80,"c":1954,"s":"p","t":131,"t2":149,"q":0.51,"q2":0.68},{"r":80,"c":1954,"s":"p","t":0,"q":0.985},{"r":80,"c":1954,"s":"p","t":120,"q":0.985},{"r":80,"c":1954,"s":"p","t":131,"q":0.68},{"r":80,"c":1954,"s":"p","t":149,"q":0.22},{"r":80,"c":1954,"s":"p","t":153,"q":0.12},{"r":80,"c":1954,"s":"p","t":157,"q":0.08},{"r":80,"c":1954,"s":"p","t":162,"q":0.04},{"r":80,"c":1954,"s":"p","t":170,"q":0},{"r":80,"c":1954,"s":"o","t":128,"q":0.98},{"r":80,"c":1954,"s":"o","t":148,"q":0.93},{"r":80,"c":1954,"s":"o","t":160,"q":0.87},{"r":80,"c":1954,"s":"o","t":195,"q":0.85},{"r":80,"c":1954,"s":"o","t":196,"q":0.3},{"r":80,"c":1954,"s":"o","t":199,"q":0.04},{"r":80,"c":1954,"s":"o","t":200.5,"q":0.04},{"r":80,"c":1954,"s":"o","t":177,"q":0.85,"q2":0.44},{"r":80,"c":1954,"s":"o","t":196.5,"q":0.98,"q2":0.3},
{"r":80,"c":1117,"s":"g","t":0,"q":0.98},{"r":80,"c":1117,"s":"g","t":2,"q":0.92},{"r":80,"c":1117,"s":"g","t":55,"q":0.92},{"r":80,"c":1117,"s":"g","t":5,"q":0.92,"q2":0.84},{"r":80,"c":1117,"s":"g","t":11,"q":0.92,"q2":0.84},{"r":80,"c":1117,"s":"pl","t":28,"q":0.98,"q2":0.72},{"r":80,"c":1117,"s":"pl","t":48,"q":0.98,"q2":0.8},{"r":80,"c":1117,"s":"r","t":0,"q":0.99},{"r":80,"c":1117,"s":"r","t":30,"q":0.975},{"r":80,"c":1117,"s":"r","t":120,"q":0.975},{"r":80,"c":1117,"s":"r","t":106,"q":0.975,"q2":0.8},{"r":80,"c":1117,"s":"r","t":110,"q":0.975,"q2":0.84},{"r":80,"c":1117,"s":"b","t":75,"t2":80,"q":0.72,"q2":0.96},{"r":80,"c":1117,"s":"b","t":82,"t2":100,"q":0.72,"q2":0.96},{"r":80,"c":1117,"s":"b","t":68,"q":0.97,"q2":0.72},{"r":80,"c":1117,"s":"pl","t":120,"t2":150,"q":0.72,"q2":0.985},{"r":80,"c":1117,"s":"p","t":131,"t2":149,"q":0.54,"q2":0.72},{"r":80,"c":1117,"s":"p","t":0,"q":0.985},{"r":80,"c":1117,"s":"p","t":120,"q":0.985},{"r":80,"c":1117,"s":"p","t":131,"q":0.72},{"r":80,"c":1117,"s":"p","t":149,"q":0.19},{"r":80,"c":1117,"s":"p","t":153,"q":0.12},{"r":80,"c":1117,"s":"p","t":157,"q":0.08},{"r":80,"c":1117,"s":"p","t":162,"q":0.04},{"r":80,"c":1117,"s":"p","t":170,"q":0},{"r":80,"c":1117,"s":"o","t":128,"q":0.98},{"r":80,"c":1117,"s":"o","t":148,"q":0.93},{"r":80,"c":1117,"s":"o","t":160,"q":0.87},{"r":80,"c":1117,"s":"o","t":195,"q":0.85},{"r":80,"c":1117,"s":"o","t":196,"q":0.3},{"r":80,"c":1117,"s":"o","t":199,"q":0.1},{"r":80,"c":1117,"s":"o","t":200.5,"q":0.1},{"r":80,"c":1117,"s":"o","t":178,"q":0.85,"q2":0.81},{"r":80,"c":1117,"s":"o","t":196.5,"q":0.98,"q2":0.12},
{"r":160,"c":5865,"s":"g","t":0,"q":0.98},{"r":160,"c":5865,"s":"g","t":2,"q":0.82},{"r":160,"c":5865,"s":"g","t":55,"q":0.82},{"r":160,"c":5865,"s":"g","t":5,"q":0.82,"q2":0.56},{"r":160,"c":5865,"s":"g","t":11,"q":0.82,"q2":0.56},{"r":160,"c":5865,"s":"pl","t":28,"q":0.98,"q2":0.53},{"r":160,"c":5865,"s":"pl","t":48,"q":0.98,"q2":0.61},{"r":160,"c":5865,"s":"r","t":0,"q":0.99},{"r":160,"c":5865,"s":"r","t":30,"q":0.93},{"r":160,"c":5865,"s":"r","t":120,"q":0.93},{"r":160,"c":5865,"s":"r","t":106,"q":0.93,"q2":0.71},{"r":160,"c":5865,"s":"r","t":110,"q":0.93,"q2":0.75},{"r":160,"c":5865,"s":"b","t":75,"t2":80,"q":0.56,"q2":0.96},{"r":160,"c":5865,"s":"b","t":88,"t2":100,"q":0.51,"q2":0.96},{"r":160,"c":5865,"s":"b","t":68,"q":0.97,"q2":0.56},{"r":160,"c":5865,"s":"pl","t":120,"t2":150,"q":0.52,"q2":0.985},{"r":160,"c":5865,"s":"p","t":131,"t2":149,"q":0.21,"q2":0.52},{"r":160,"c":5865,"s":"p","t":0,"q":0.985},{"r":160,"c":5865,"s":"p","t":120,"q":0.985},{"r":160,"c":5865,"s":"p","t":131,"q":0.52},{"r":160,"c":5865,"s":"p","t":149,"q":0.08},{"r":160,"c":5865,"s":"p","t":153,"q":0.08},{"r":160,"c":5865,"s":"p","t":157,"q":0.05},{"r":160,"c":5865,"s":"p","t":162,"q":0.03},{"r":160,"c":5865,"s":"p","t":170,"q":0},{"r":160,"c":5865,"s":"o","t":128,"q":0.98},{"r":160,"c":5865,"s":"o","t":148,"q":0.9},{"r":160,"c":5865,"s":"o","t":160,"q":0.76},{"r":160,"c":5865,"s":"o","t":195,"q":0.74},{"r":160,"c":5865,"s":"o","t":196,"q":0.3},{"r":160,"c":5865,"s":"o","t":199,"q":0.02},{"r":160,"c":5865,"s":"o","t":200.5,"q":0.02},{"r":160,"c":5865,"s":"o","t":178,"q":0.74,"q2":0.68},{"r":160,"c":5865,"s":"o","t":196.5,"q":0.98,"q2":0.3},
{"r":160,"c":3358,"s":"g","t":0,"q":0.98},{"r":160,"c":3358,"s":"g","t":2,"q":0.85},{"r":160,"c":3358,"s":"g","t":55,"q":0.85},{"r":160,"c":3358,"s":"g","t":5,"q":0.85,"q2":0.76},{"r":160,"c":3358,"s":"g","t":11,"q":0.85,"q2":0.76},{"r":160,"c":3358,"s":"pl","t":28,"q":0.98,"q2":0.55},{"r":160,"c":3358,"s":"pl","t":48,"q":0.98,"q2":0.63},{"r":160,"c":3358,"s":"r","t":0,"q":0.99},{"r":160,"c":3358,"s":"r","t":30,"q":0.91},{"r":160,"c":3358,"s":"r","t":120,"q":0.91},{"r":160,"c":3358,"s":"r","t":106,"q":0.91,"q2":0.75},{"r":160,"c":3358,"s":"r","t":110,"q":0.91,"q2":0.79},{"r":160,"c":3358,"s":"b","t":75,"t2":80,"q":0.71,"q2":0.96},{"r":160,"c":3358,"s":"b","t":88,"t2":100,"q":0.55,"q2":0.96},{"r":160,"c":3358,"s":"b","t":68,"q":0.97,"q2":0.71},{"r":160,"c":3358,"s":"pl","t":120,"t2":150,"q":0.55,"q2":0.985},{"r":160,"c":3358,"s":"p","t":131,"t2":149,"q":0.22,"q2":0.55},{"r":160,"c":3358,"s":"p","t":0,"q":0.985},{"r":160,"c":3358,"s":"p","t":120,"q":0.985},{"r":160,"c":3358,"s":"p","t":131,"q":0.55},{"r":160,"c":3358,"s":"p","t":149,"q":0.1},{"r":160,"c":3358,"s":"p","t":153,"q":0.1},{"r":160,"c":3358,"s":"p","t":157,"q":0.06},{"r":160,"c":3358,"s":"p","t":162,"q":0.03},{"r":160,"c":3358,"s":"p","t":170,"q":0},{"r":160,"c":3358,"s":"o","t":128,"q":0.98},{"r":160,"c":3358,"s":"o","t":148,"q":0.9},{"r":160,"c":3358,"s":"o","t":160,"q":0.75},{"r":160,"c":3358,"s":"o","t":195,"q":0.73},{"r":160,"c":3358,"s":"o","t":196,"q":0.3},{"r":160,"c":3358,"s":"o","t":199,"q":0.02},{"r":160,"c":3358,"s":"o","t":200.5,"q":0.02},{"r":160,"c":3358,"s":"o","t":178,"q":0.73,"q2":0.7},{"r":160,"c":3358,"s":"o","t":196.5,"q":0.98,"q2":0.3},
{"r":160,"c":1954,"s":"g","t":0,"q":0.98},{"r":160,"c":1954,"s":"g","t":2,"q":0.9},{"r":160,"c":1954,"s":"g","t":55,"q":0.9},{"r":160,"c":1954,"s":"g","t":5,"q":0.9,"q2":0.83},{"r":160,"c":1954,"s":"g","t":11,"q":0.9,"q2":0.83},{"r":160,"c":1954,"s":"pl","t":28,"q":0.98,"q2":0.58},{"r":160,"c":1954,"s":"pl","t":48,"q":0.98,"q2":0.66},{"r":160,"c":1954,"s":"r","t":0,"q":0.99},{"r":160,"c":1954,"s":"r","t":30,"q":0.96},{"r":160,"c":1954,"s":"r","t":120,"q":0.96},{"r":160,"c":1954,"s":"r","t":106,"q":0.96,"q2":0.78},{"r":160,"c":1954,"s":"r","t":110,"q":0.96,"q2":0.82},{"r":160,"c":1954,"s":"b","t":75,"t2":80,"q":0.71,"q2":0.96},{"r":160,"c":1954,"s":"b","t":88,"t2":100,"q":0.57,"q2":0.96},{"r":160,"c":1954,"s":"b","t":68,"q":0.97,"q2":0.71},{"r":160,"c":1954,"s":"pl","t":120,"t2":150,"q":0.66,"q2":0.985},{"r":160,"c":1954,"s":"p","t":131,"t2":149,"q":0.31,"q2":0.66},{"r":160,"c":1954,"s":"p","t":0,"q":0.985},{"r":160,"c":1954,"s":"p","t":120,"q":0.985},{"r":160,"c":1954,"s":"p","t":131,"q":0.66},{"r":160,"c":1954,"s":"p","t":149,"q":0.12},{"r":160,"c":1954,"s":"p","t":153,"q":0.1},{"r":160,"c":1954,"s":"p","t":157,"q":0.06},{"r":160,"c":1954,"s":"p","t":162,"q":0.03},{"r":160,"c":1954,"s":"p","t":170,"q":0},{"r":160,"c":1954,"s":"o","t":128,"q":0.98},{"r":160,"c":1954,"s":"o","t":148,"q":0.92},{"r":160,"c":1954,"s":"o","t":160,"q":0.85},{"r":160,"c":1954,"s":"o","t":195,"q":0.83},{"r":160,"c":1954,"s":"o","t":196,"q":0.3},{"r":160,"c":1954,"s":"o","t":199,"q":0.02},{"r":160,"c":1954,"s":"o","t":200.5,"q":0.02},{"r":160,"c":1954,"s":"o","t":177,"q":0.83,"q2":0.35},{"r":160,"c":1954,"s":"o","t":196.5,"q":0.98,"q2":0.3},
{"r":160,"c":1117,"s":"g","t":0,"q":0.98},{"r":160,"c":1117,"s":"g","t":2,"q":0.9},{"r":160,"c":1117,"s":"g","t":55,"q":0.9},{"r":160,"c":1117,"s":"g","t":5,"q":0.9,"q2":0.82},{"r":160,"c":1117,"s":"g","t":11,"q":0.9,"q2":0.82},{"r":160,"c":1117,"s":"pl","t":28,"q":0.98,"q2":0.64},{"r":160,"c":1117,"s":"pl","t":48,"q":0.98,"q2":0.72},{"r":160,"c":1117,"s":"r","t":0,"q":0.99},{"r":160,"c":1117,"s":"r","t":30,"q":0.97},{"r":160,"c":1117,"s":"r","t":120,"q":0.97},{"r":160,"c":1117,"s":"r","t":106,"q":0.97,"q2":0.78},{"r":160,"c":1117,"s":"r","t":110,"q":0.97,"q2":0.82},{"r":160,"c":1117,"s":"b","t":75,"t2":80,"q":0.64,"q2":0.96},{"r":160,"c":1117,"s":"b","t":82,"t2":100,"q":0.64,"q2":0.96},{"r":160,"c":1117,"s":"b","t":68,"q":0.97,"q2":0.64},{"r":160,"c":1117,"s":"pl","t":120,"t2":150,"q":0.64,"q2":0.985},{"r":160,"c":1117,"s":"p","t":131,"t2":149,"q":0.31,"q2":0.64},{"r":160,"c":1117,"s":"p","t":0,"q":0.985},{"r":160,"c":1117,"s":"p","t":120,"q":0.985},{"r":160,"c":1117,"s":"p","t":131,"q":0.64},{"r":160,"c":1117,"s":"p","t":149,"q":0.12},{"r":160,"c":1117,"s":"p","t":153,"q":0.1},{"r":160,"c":1117,"s":"p","t":157,"q":0.06},{"r":160,"c":1117,"s":"p","t":162,"q":0.03},{"r":160,"c":1117,"s":"p","t":170,"q":0},{"r":160,"c":1117,"s":"o","t":128,"q":0.98},{"r":160,"c":1117,"s":"o","t":148,"q":0.93},{"r":160,"c":1117,"s":"o","t":160,"q":0.87},{"r":160,"c":1117,"s":"o","t":195,"q":0.85},{"r":160,"c":1117,"s":"o","t":196,"q":0.3},{"r":160,"c":1117,"s":"o","t":199,"q":0.02},{"r":160,"c":1117,"s":"o","t":200.5,"q":0.02},{"r":160,"c":1117,"s":"o","t":178,"q":0.85,"q2":0.81},{"r":160,"c":1117,"s":"o","t":196.5,"q":0.98,"q2":0.05},
{"r":2,"c":5865,"s":"g","t":2,"t2":55,"q":0.935,"q2":0.97},{"r":2,"c":5865,"s":"o","t":160,"t2":195,"q":0.89,"q2":0.94},
{"r":2,"c":3358,"s":"g","t":2,"t2":55,"q":0.935,"q2":0.97},{"r":2,"c":3358,"s":"o","t":160,"t2":195,"q":0.89,"q2":0.94},
{"r":2,"c":1954,"s":"g","t":2,"t2":55,"q":0.935,"q2":0.97},{"r":2,"c":1954,"s":"o","t":160,"t2":195,"q":0.89,"q2":0.94},
{"r":2,"c":1117,"s":"g","t":2,"t2":55,"q":0.935,"q2":0.97},{"r":2,"c":1117,"s":"o","t":160,"t2":195,"q":0.91,"q2":0.96},
{"r":10,"c":5865,"s":"g","t":2,"t2":55,"q":0.925,"q2":0.96},{"r":10,"c":5865,"s":"o","t":160,"t2":195,"q":0.87,"q2":0.92},
{"r":10,"c":3358,"s":"g","t":2,"t2":55,"q":0.925,"q2":0.96},{"r":10,"c":3358,"s":"o","t":160,"t2":195,"q":0.88,"q2":0.93},
{"r":10,"c":1954,"s":"g","t":2,"t2":55,"q":0.935,"q2":0.97},{"r":10,"c":1954,"s":"o","t":160,"t2":195,"q":0.89,"q2":0.94},
{"r":10,"c":1117,"s":"g","t":2,"t2":55,"q":0.925,"q2":0.96},{"r":10,"c":1117,"s":"o","t":160,"t2":195,"q":0.9,"q2":0.95},
{"r":20,"c":5865,"s":"g","t":2,"t2":55,"q":0.915,"q2":0.95},{"r":20,"c":5865,"s":"o","t":160,"t2":195,"q":0.85,"q2":0.9},
{"r":20,"c":3358,"s":"g","t":2,"t2":55,"q":0.915,"q2":0.95},{"r":20,"c":3358,"s":"o","t":160,"t2":195,"q":0.86,"q2":0.91},
{"r":20,"c":1954,"s":"g","t":2,"t2":55,"q":0.925,"q2":0.96},{"r":20,"c":1954,"s":"o","t":160,"t2":195,"q":0.88,"q2":0.93},
{"r":20,"c":1117,"s":"g","t":2,"t2":55,"q":0.925,"q2":0.96},{"r":20,"c":1117,"s":"o","t":160,"t2":195,"q":0.9,"q2":0.95},
{"r":40,"c":5865,"s":"g","t":2,"t2":55,"q":0.875,"q2":0.91},{"r":40,"c":5865,"s":"o","t":160,"t2":195,"q":0.81,"q2":0.86},
{"r":40,"c":3358,"s":"g","t":2,"t2":55,"q":0.885,"q2":0.92},{"r":40,"c":3358,"s":"o","t":160,"t2":195,"q":0.83,"q2":0.88},
{"r":40,"c":1954,"s":"g","t":2,"t2":55,"q":0.915,"q2":0.95},{"r":40,"c":1954,"s":"o","t":160,"t2":195,"q":0.86,"q2":0.91},
{"r":40,"c":1117,"s":"g","t":2,"t2":55,"q":0.915,"q2":0.95},{"r":40,"c":1117,"s":"o","t":160,"t2":195,"q":0.87,"q2":0.92},
{"r":80,"c":5865,"s":"g","t":2,"t2":55,"q":0.835,"q2":0.87},{"r":80,"c":5865,"s":"o","t":160,"t2":195,"q":0.77,"q2":0.82},
{"r":80,"c":3358,"s":"g","t":2,"t2":55,"q":0.835,"q2":0.87},{"r":80,"c":3358,"s":"o","t":160,"t2":195,"q":0.78,"q2":0.83},
{"r":80,"c":1954,"s":"g","t":2,"t2":55,"q":0.895,"q2":0.93},{"r":80,"c":1954,"s":"o","t":160,"t2":195,"q":0.82,"q2":0.87},
{"r":80,"c":1117,"s":"g","t":2,"t2":55,"q":0.895,"q2":0.93},{"r":80,"c":1117,"s":"o","t":160,"t2":195,"q":0.82,"q2":0.87},
{"r":160,"c":5865,"s":"g","t":2,"t2":55,"q":0.795,"q2":0.83},{"r":160,"c":5865,"s":"o","t":160,"t2":195,"q":0.71,"q2":0.76},
{"r":160,"c":3358,"s":"g","t":2,"t2":55,"q":0.825,"q2":0.86},{"r":160,"c":3358,"s":"o","t":160,"t2":195,"q":0.7,"q2":0.75},
{"r":160,"c":1954,"s":"g","t":2,"t2":55,"q":0.875,"q2":0.91},{"r":160,"c":1954,"s":"o","t":160,"t2":195,"q":0.8,"q2":0.85},
{"r":160,"c":1117,"s":"g","t":2,"t2":55,"q":0.875,"q2":0.91},{"r":160,"c":1117,"s":"o","t":160,"t2":195,"q":0.82,"q2":0.87}
]},
"facet":{
"row":{"field":"r","type":"ordinal","sort":[2,10,20,40,80,160],"header":{"title":"qₘₛₘ","titleFontSize":30,"titleFontStyle":"italic","titleFontWeight":"normal","titleColor":"#262626","titlePadding":10,"labelExpr":"'τlag = ' + datum.value","labelAngle":-90,"labelFontSize":27,"labelColor":"#262626","labelPadding":-4}},
"column":{"field":"c","type":"ordinal","sort":"descending","header":{"title":"Clusters","titleFontSize":35,"titleFontWeight":"normal","titleColor":"#262626","titlePadding":-13,"labelFontSize":30,"labelColor":"#262626","labelPadding":-2}}
},
"spacing":{"row":37,"column":35},
"spec":{"width":215,"height":130,"layer":[
{"transform":[{"filter":"isValid(datum.t2)"}],"mark":{"type":"rect"},"encoding":{
"x":{"field":"t","type":"quantitative","scale":{"domain":[-10,210],"nice":false,"zero":false},"axis":{"values":[0,100,200],"title":null,"labelFlush":false}},
"x2":{"field":"t2"},
"y":{"field":"q","type":"quantitative","scale":{"domain":[0,1],"nice":false,"zero":false},"axis":{"values":[0,0.5,1],"format":".1f","title":null}},
"y2":{"field":"q2"},
"opacity":{"condition":{"test":"datum.s == 'pl'","value":0.55},"value":0.95},
"color":{"field":"s","type":"nominal","scale":{"domain":["g","pl","r","b","p","o"],"range":["#2ca02c","#b99ad4","#d62728","#1f77b4","#9467bd","#ff7f0e"]},"legend":null}}},
{"transform":[{"filter":"isValid(datum.q2) && !isValid(datum.t2)"}],"mark":{"type":"rule","strokeWidth":1.3},"encoding":{
"x":{"field":"t","type":"quantitative"},"y":{"field":"q","type":"quantitative"},"y2":{"field":"q2"},"color":{"field":"s","type":"nominal"}}},
{"transform":[{"filter":"!isValid(datum.q2)"}],"mark":{"type":"line","interpolate":"step-after","strokeWidth":1.5},"encoding":{
"x":{"field":"t","type":"quantitative"},"y":{"field":"q","type":"quantitative"},"color":{"field":"s","type":"nominal"}}}
]},
"config":{"font":"DejaVu Sans","view":{"stroke":"#333333","strokeWidth":1.3},
"axis":{"grid":true,"gridColor":"#d0d0d0","gridWidth":0.8,"domain":false,"ticks":true,"tickColor":"#333333","tickSize":6,"tickWidth":1.2,"labelFontSize":25,"labelColor":"#262626","labelPadding":4,"labelFont":"DejaVu Sans"},
"header":{"labelFont":"DejaVu Sans","titleFont":"DejaVu Sans"}}
}
